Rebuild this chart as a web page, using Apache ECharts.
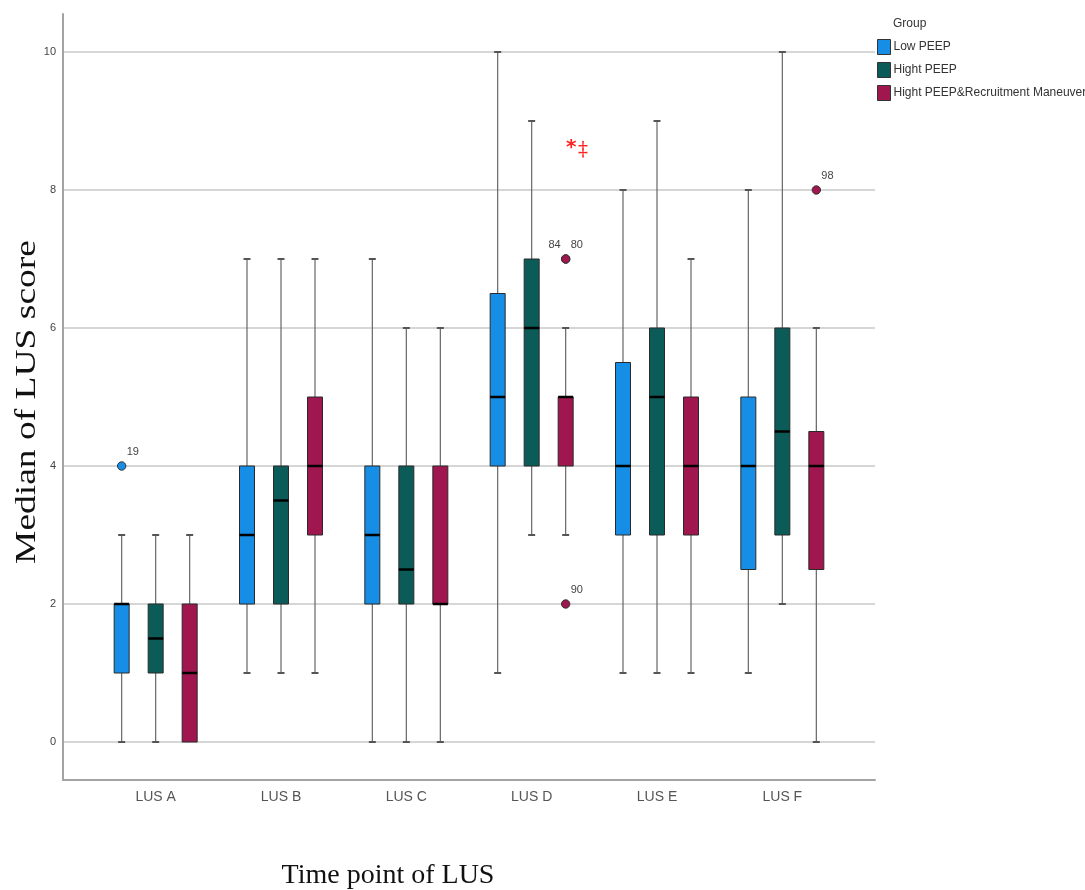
<!DOCTYPE html>
<html>
<head>
<meta charset="utf-8">
<script src="https://cdn.jsdelivr.net/npm/echarts@6/dist/echarts.min.js"></script>
<style>html,body{margin:0;padding:0;background:#fff}#c{width:1085px;height:890px}</style>
</head>
<body>
<div id="c"></div>
<script>
// ---- data ----
const categories = ['LUS A', 'LUS B', 'LUS C', 'LUS D', 'LUS E', 'LUS F'];
const groups = ['Low PEEP', 'Hight PEEP', 'Hight PEEP&Recruitment Maneuver'];
const yTicks = [0, 2, 4, 6, 8, 10];
// each box: [min, q1, median, q3, max]
const lowPeep = [[0, 1, 2, 2, 3], [1, 2, 3, 4, 7], [0, 2, 3, 4, 7], [1, 4, 5, 6.5, 10], [1, 3, 4, 5.5, 8], [1, 2.5, 4, 5, 8]];
const highPeep = [[0, 1, 1.5, 2, 3], [1, 2, 3.5, 4, 7], [0, 2, 2.5, 4, 6], [3, 4, 6, 7, 9], [1, 3, 5, 6, 9], [2, 3, 4.5, 6, 10]];
const hprm = [[0, 0, 1, 2, 3], [1, 3, 4, 5, 7], [0, 2, 2, 4, 6], [3, 4, 5, 5, 6], [1, 3, 4, 5, 7], [0, 2.5, 4, 4.5, 6]];
// outliers: [categoryIndex, groupIndex, value, case label]
const outliers = [[0, 0, 4, '19'], [3, 2, 7, '84'], [3, 2, 7, '80'], [3, 2, 2, '90'], [5, 2, 8, '98']];
const colors = ['#168ee6', '#0b5c58', '#a0174f'];

const groupData = [lowPeep, highPeep, hprm];
const offsets = [-34, 0, 34];
const boxW = 15;

function boxSeries(gi) {
  return {
    name: groups[gi],
    type: 'custom',
    xAxisIndex: 2, yAxisIndex: 2,
    itemStyle: { color: colors[gi], borderColor: '#333', borderWidth: 1 },
    data: groupData[gi].map((b, ci) => [ci].concat(b)),
    renderItem: function (params, api) {
      const ci = api.value(0);
      const cx = api.coord([ci, 0])[0] + offsets[gi];
      const y = [1, 2, 3, 4, 5].map(k => api.coord([ci, api.value(k)])[1]);
      const wl = { stroke: '#666', lineWidth: 1.2 };
      const children = [];
      if (y[4] < y[3]) {
        children.push({ type: 'line', shape: { x1: cx, y1: y[4], x2: cx, y2: y[3] }, style: wl });
        children.push({ type: 'line', shape: { x1: cx - 3.5, y1: y[4], x2: cx + 3.5, y2: y[4] }, style: { stroke: '#555', lineWidth: 2 } });
      }
      if (y[0] > y[1]) {
        children.push({ type: 'line', shape: { x1: cx, y1: y[1], x2: cx, y2: y[0] }, style: wl });
        children.push({ type: 'line', shape: { x1: cx - 3.5, y1: y[0], x2: cx + 3.5, y2: y[0] }, style: { stroke: '#555', lineWidth: 2 } });
      }
      children.push({ type: 'rect', shape: { x: cx - boxW / 2, y: y[3], width: boxW, height: y[1] - y[3] },
        style: { fill: colors[gi], stroke: '#2a2a2a', lineWidth: 1 } });
      children.push({ type: 'line', shape: { x1: cx - boxW / 2, y1: y[2], x2: cx + boxW / 2, y2: y[2] },
        style: { stroke: '#000', lineWidth: 2.5 } });
      return { type: 'group', children: children };
    }
  };
}

const outlierSeries = {
  type: 'custom',
  xAxisIndex: 2, yAxisIndex: 2,
  data: outliers,
  silent: true,
  renderItem: function (params, api) {
    const o = outliers[params.dataIndex];
    const p = api.coord([o[0], o[2]]);
    const cx = p[0] + offsets[o[1]];
    const same = outliers.filter(q => q[0] === o[0] && q[1] === o[1] && q[2] === o[2]);
    const idx = same.indexOf(o);
    let tx = cx + 5, align = 'left';
    if (same.length > 1) {
      if (idx === 0) { tx = cx - 5; align = 'right'; } else { tx = cx + 5; align = 'left'; }
    }
    return {
      type: 'group',
      children: [
        { type: 'circle', shape: { cx: cx, cy: p[1], r: 4.2 }, style: { fill: colors[o[1]], stroke: '#333', lineWidth: 1 } },
        { type: 'text', style: { text: o[3], x: tx, y: p[1] - 9, align: align, verticalAlign: 'bottom',
          fill: '#444', font: '11px "Liberation Sans", Arial, sans-serif' } }
      ]
    };
  }
};

const chart = echarts.init(document.getElementById('c'), null, { renderer: 'canvas' });
chart.setOption({
  animation: false,
  backgroundColor: '#fff',
  grid: [
    { left: 63, top: 14, width: 812, height: 766 },
    { left: 63, top: 52, width: 812, height: 690 },
    { left: 93, top: 52, width: 752, height: 690 }
  ],
  xAxis: [
    { gridIndex: 0, type: 'value', min: 0, max: 1, axisLine: { show: true, lineStyle: { color: '#a3a3a3', width: 2 } },
      axisTick: { show: false }, axisLabel: { show: false }, splitLine: { show: false } },
    { gridIndex: 1, type: 'value', min: 0, max: 1, show: false },
    { gridIndex: 2, type: 'category', data: categories, axisLine: { show: false }, axisTick: { show: false },
      axisLabel: { margin: 48, fontSize: 14, color: '#555', fontFamily: '"Liberation Sans", Arial, sans-serif' },
      splitLine: { show: false } }
  ],
  yAxis: [
    { gridIndex: 0, type: 'value', min: 0, max: 1, axisLine: { show: true, lineStyle: { color: '#a3a3a3', width: 2 } },
      axisTick: { show: false }, axisLabel: { show: false }, splitLine: { show: false } },
    { gridIndex: 1, type: 'value', min: yTicks[0], max: yTicks[yTicks.length - 1], interval: 2,
      axisLine: { show: false }, axisTick: { show: false },
      axisLabel: { fontSize: 11, color: '#444', margin: 7, fontFamily: '"Liberation Sans", Arial, sans-serif',
        formatter: v => yTicks.includes(v) ? String(v) : '' },
      splitLine: { show: true, lineStyle: { color: '#d6d6d6', width: 2 } } },
    { gridIndex: 2, type: 'value', min: yTicks[0], max: yTicks[yTicks.length - 1], show: false }
  ],
  legend: {
    orient: 'vertical', left: 877, top: 39, padding: 0, itemWidth: 13, itemHeight: 15, itemGap: 7,
    icon: 'rect', selectedMode: false,
    textStyle: { fontSize: 12, color: '#333', fontFamily: '"Liberation Sans", Arial, sans-serif', padding: [0, 0, 0, -2] },
    data: groups.map((g, i) => ({ name: g, itemStyle: { color: colors[i], borderColor: '#333', borderWidth: 1 } }))
  },
  graphic: [
    { type: 'text', left: 893, top: 18, style: { text: 'Group', fill: '#333', font: '12px "Liberation Sans", Arial, sans-serif' } },
    { type: 'text', x: 388, y: 876, style: { text: 'Time point of LUS', align: 'center', verticalAlign: 'middle',
      fill: '#111', font: '28px "Liberation Serif", "Times New Roman", serif' } },
    { type: 'text', x: 27, y: 402, rotation: Math.PI / 2, scaleX: 1.25, style: { text: 'Median of LUS score', align: 'center', verticalAlign: 'middle',
      fill: '#111', font: '30px "Liberation Serif", "Times New Roman", serif' } },
    { type: 'text', x: 566, y: 148, style: { text: '*', fill: '#ff2020', align: 'left', verticalAlign: 'middle',
      font: 'bold 20px "DejaVu Sans", sans-serif' } },
    { type: 'text', x: 578, y: 151, style: { text: '‡', fill: '#ff2020', align: 'left', verticalAlign: 'middle',
      font: '20px "DejaVu Serif", serif' } }
  ],
  series: [boxSeries(0), boxSeries(1), boxSeries(2), outlierSeries]
});
</script>
</body>
</html>
